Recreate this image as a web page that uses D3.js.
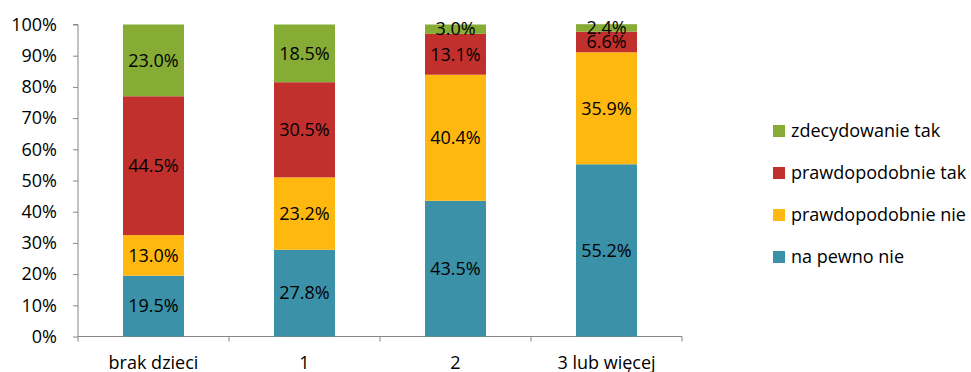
<!DOCTYPE html>
<html>
<head>
<meta charset="utf-8">
<script src="https://cdn.jsdelivr.net/npm/d3@7"></script>
<style>
  body { margin: 0; background: #fff; }
  svg text { font-family: "Open Sans", Lato, sans-serif; fill: #000; }
</style>
</head>
<body>
<div id="chart"></div>
<script>
// categories and series (percent)
const categories = ["brak dzieci", "1", "2", "3 lub więcej"];
const seriesNames = ["na pewno nie", "prawdopodobnie nie", "prawdopodobnie tak", "zdecydowanie tak"];
const naPewnoNie = [19.5, 27.8, 43.5, 55.2];
const prawdNie = [13.0, 23.2, 40.4, 35.9];
const prawdTak = [44.5, 30.5, 13.1, 6.6];
const zdecTak = [23.0, 18.5, 3.0, 2.4];
const yTicks = [0, 10, 20, 30, 40, 50, 60, 70, 80, 90, 100];
const colors = ["#3a91a8", "#ffb80f", "#c2302e", "#86ac36"];

const width = 971, height = 372;
const plotLeft = 78, plotRight = 682, plotTop = 24.5, plotBottom = 336.5;
const fs = 18;

const svg = d3.select("#chart").append("svg").attr("width", width).attr("height", height);

let rows = categories.map((c, i) => ({
    cat: c, s0: naPewnoNie[i], s1: prawdNie[i], s2: prawdTak[i], s3: zdecTak[i]
}));
let stack = d3.stack().keys(["s0", "s1", "s2", "s3"])(rows);

let x = d3.scaleBand().domain(categories).range([plotLeft, plotRight]).paddingInner(0).paddingOuter(0);
let y = d3.scaleLinear().domain([0, 100]).range([plotBottom, plotTop]);
let barW = 61;

// y axis
let yAxis = svg.append("g").attr("transform", `translate(${plotLeft},0)`)
    .call(d3.axisLeft(y).tickValues(yTicks).tickSize(5).tickPadding(16).tickFormat(d => d + "%"));
yAxis.select(".domain").attr("stroke", "#868686").attr("d", `M-5,${plotTop}H0V${plotBottom}`);
yAxis.selectAll(".tick line").attr("stroke", "#868686");
yAxis.selectAll(".tick text").attr("font-size", fs).attr("fill", "#000");

// x axis
let xAxis = svg.append("g").attr("transform", `translate(0,${plotBottom})`)
    .call(d3.axisBottom(x).tickSize(0));
xAxis.select(".domain").attr("stroke", "#868686").attr("d", `M${plotLeft},0H${plotRight}`);
xAxis.selectAll(".tick text").attr("font-size", fs).attr("fill", "#000").attr("y", 32).attr("dy", 0);
let bounds = categories.map((c, i) => x(c)).concat([plotRight]);
xAxis.selectAll(".bnd").data(bounds).enter().append("line")
    .attr("x1", d => d).attr("x2", d => d).attr("y1", 0).attr("y2", 5).attr("stroke", "#868686");

// bars
let layers = svg.selectAll(".layer").data(stack).enter().append("g")
    .attr("fill", (d, i) => colors[i]);
layers.selectAll("rect").data(d => d).enter().append("rect")
    .attr("x", d => x(d.data.cat) + x.bandwidth() / 2 - barW / 2)
    .attr("width", barW)
    .attr("y", d => y(d[1]))
    .attr("height", d => y(d[0]) - y(d[1]));
layers.selectAll("text").data(d => d).enter().append("text")
    .attr("x", d => x(d.data.cat) + x.bandwidth() / 2)
    .attr("y", d => (y(d[0]) + y(d[1])) / 2)
    .attr("dy", "0.35em")
    .attr("text-anchor", "middle")
    .attr("font-size", fs)
    .text(d => (d[1] - d[0]).toFixed(1) + "%");

// legend
let legendOrder = [3, 2, 1, 0];
let lg = svg.selectAll(".lg").data(legendOrder).enter().append("g")
    .attr("transform", (d, i) => `translate(773,${131 + i * 42})`);
lg.append("rect").attr("x", 0).attr("y", -6).attr("width", 12).attr("height", 12)
    .attr("fill", d => colors[d]);
lg.append("text").attr("x", 18).attr("dy", "0.35em").attr("font-size", fs)
    .text(d => seriesNames[d]);
</script>
</body>
</html>
